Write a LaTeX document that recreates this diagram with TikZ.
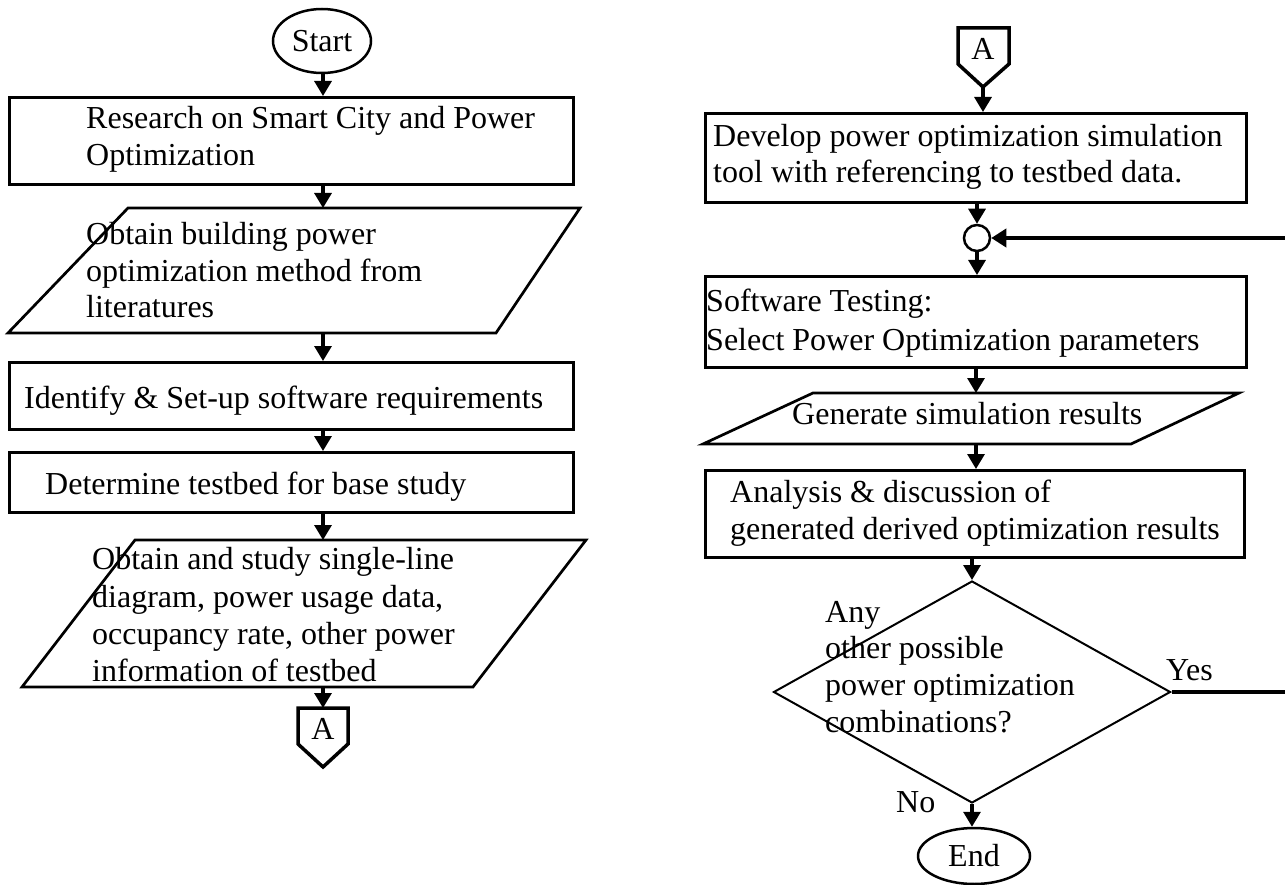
\documentclass[tikz,border=0pt]{standalone}
\usepackage{fontspec}
\setmainfont{Liberation Serif}
\usetikzlibrary{shapes.geometric,arrows.meta,calc}
\newcommand\flowfont{\fontsize{32}{37}\selectfont}

\begin{document}
\begin{tikzpicture}[x=1pt,y=-1pt,
  every node/.style={font=\flowfont},
  stepbox/.style={draw, line width=2.7pt, inner sep=0pt, anchor=north west},
  ln/.style={anchor=base west, inner sep=0pt},
  term/.style={draw, ellipse, line width=2.5pt, inner sep=0pt},
  flow/.style={line width=3.2pt, -{Triangle[width=17pt,length=15pt]}},
  io/.style={line width=2.7pt, line join=miter},
  offpage/.style={line width=3.5pt, line join=miter},
  decision/.style={draw, diamond, line width=2pt, inner sep=0pt},
  back/.style={line width=4pt, -{Triangle[width=18pt,length=15pt]}}]

\useasboundingbox (0,0) rectangle (1285,885);

% ---------------- left column ----------------
\coordinate (lx) at (323,0);
\node[term, minimum width=98pt, minimum height=64pt] (start) at (322,41) {Start};

\node[stepbox, minimum width=564pt, minimum height=87pt] (b1) at (8,96) {};
\node[ln] (b1a) at (86,129) {Research on Smart City and Power};
\node[ln] (b1b) at (86,166) {Optimization};

\draw[io] (128,208) -- (580,208) -- (496,333) -- (8,333) -- cycle;
\coordinate (p1n) at (323,208);
\coordinate (p1s) at (323,333);
\node[ln] (p1a) at (86,245) {Obtain building power};
\node[ln] (p1b) at (86,282) {optimization method from};
\node[ln] (p1c) at (86,318) {literatures};

\node[stepbox, minimum width=564pt, minimum height=67pt] (b2) at (8,361) {};
\node[ln] (b2a) at (24,408) {Identify \& Set-up software requirements};

\node[stepbox, minimum width=564pt, minimum height=60pt] (b3) at (8,451) {};
\node[ln] (b3a) at (45,494) {Determine testbed for base study};

\draw[io] (135,540) -- (586,540) -- (473,687) -- (22,687) -- cycle;
\coordinate (p2n) at (323,540);
\coordinate (p2s) at (323,687);
\node[ln] (p2a) at (92,569) {Obtain and study single-line};
\node[ln] (p2b) at (92,607) {diagram, power usage data,};
\node[ln] (p2c) at (92,644) {occupancy rate, other power};
\node[ln] (p2d) at (92,681) {information of testbed};

\draw[offpage] (298,708) -- (348,708) -- (348,744) -- (323,767) -- (298,744) -- cycle;
\coordinate (latop) at (323,708);
\node (la) at (323,729) {A};

\draw[flow] (start.south -| lx) -- (b1.north -| lx);
\draw[flow] (b1.south -| lx) -- (p1n);
\draw[flow] (p1s) -- (b2.north -| lx);
\draw[flow] (b2.south -| lx) -- (b3.north -| lx);
\draw[flow] (b3.south -| lx) -- (p2n);
\draw[flow] (p2s) -- (latop);

% ---------------- right column ----------------
\draw[offpage] (958,28) -- (1009,28) -- (1009,64) -- (983,87) -- (958,64) -- cycle;
\coordinate (ratip) at (983,87);
\node (ra) at (983,49) {A};

\node[stepbox, minimum width=541pt, minimum height=89pt] (r1) at (704,112) {};
\node[ln] (r1a) at (713,147) {Develop power optimization simulation};
\node[ln] (r1b) at (713,183) {tool with referencing to testbed data.};

\node[draw, circle, line width=2.5pt, minimum size=26pt, inner sep=0pt] (jn) at (977,238) {};

\node[stepbox, minimum width=541pt, minimum height=91pt] (r2) at (704,275) {};
\node[ln] (r2a) at (706,312) {Software Testing:};
\node[ln] (r2b) at (706,350) {Select Power Optimization parameters};

\draw[io] (813,393) -- (1239,393) -- (1131,444) -- (703,444) -- cycle;
\coordinate (prn) at (976,393);
\coordinate (prs) at (976,444);
\node[ln] (pra) at (792,424) {Generate simulation results};

\node[stepbox, minimum width=539pt, minimum height=87pt] (r3) at (704,469) {};
\node[ln] (r3a) at (730,502) {Analysis \& discussion of};
\node[ln] (r3b) at (730,539) {generated derived optimization results};

\node[decision, minimum width=397pt, minimum height=222pt] (dec) at (972,692) {};
\node[ln] (da) at (825,622) {Any};
\node[ln] (db) at (825,658) {other possible};
\node[ln] (dc) at (825,695) {power optimization};
\node[ln] (dd) at (825,732) {combinations?};

\node[term, minimum width=112pt, minimum height=56pt] (end) at (974,856) {End};

\node[ln] (yes) at (1166,680) {Yes};
\node[ln] (no) at (896,812) {No};

\draw[flow] (ratip) -- (r1.north -| ratip);
\draw[flow] (r1.south -| jn) -- (jn.north);
\draw[flow] (jn.south) -- (r2.north -| jn);
\draw[flow] (r2.south -| prn) -- (prn);
\draw[flow] (prs) -- (r3.north -| prs);
\draw[flow] (r3.south -| dec) -- (dec.north);
\draw[flow] (dec.south) -- (end.north -| dec.south);

% loop back to the junction (runs along the page edge)
\coordinate (far) at (1300,0);
\draw[back] (dec.east) -- (dec.east -| far) |- (jn.east);

\end{tikzpicture}
\end{document}
